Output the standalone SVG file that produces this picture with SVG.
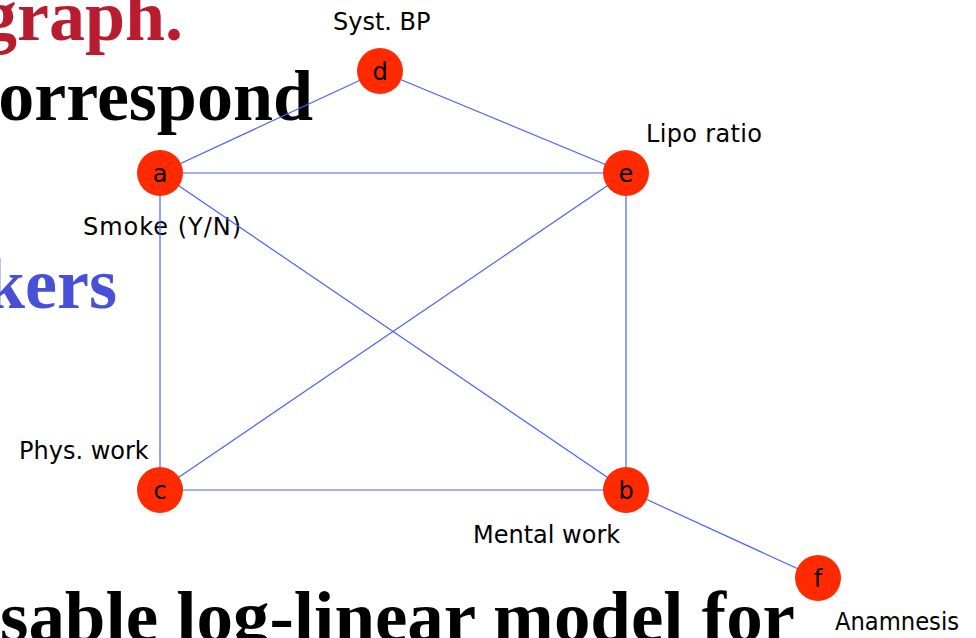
<svg xmlns="http://www.w3.org/2000/svg" width="976" height="638" viewBox="0 0 976 638">
<style>
.big{font-family:"Liberation Serif","Times New Roman",serif;font-weight:bold;font-size:72px}
.lbl{font-family:"DejaVu Sans",Verdana,sans-serif;font-size:24px;fill:#000}
.node circle{fill:#ff2a00}
.node text{font-family:"DejaVu Sans",Verdana,sans-serif;font-size:24px;fill:#000;text-anchor:middle}
.edge{stroke:#4a63ff;stroke-width:1.2;fill:none}
</style>
<rect width="976" height="638" fill="#fff"/>
<g id="background-text">
<text class="big" x="183" y="40" fill="#b81c2e" text-anchor="end">graph.</text>
<text class="big" x="313" y="120" fill="#000" text-anchor="end">orrespond</text>
<text class="big" x="117" y="308" fill="#4750d6" text-anchor="end">kers</text>
<text class="big" x="0" y="641" fill="#000" textLength="795" lengthAdjust="spacingAndGlyphs">sable log-linear model for</text>
</g>
<g id="labels">
<text class="lbl" x="333" y="30">Syst. BP</text>
<text class="lbl" x="646" y="142" textLength="116">Lipo ratio</text>
<text class="lbl" x="83" y="235" textLength="158">Smoke (Y/N)</text>
<text class="lbl" x="19" y="459">Phys. work</text>
<text class="lbl" x="473" y="543">Mental work</text>
<text class="lbl" x="835" y="630" textLength="124" lengthAdjust="spacingAndGlyphs">Anamnesis</text>
</g>
<g id="connectors">
<line class="edge" x1="160" y1="173" x2="380" y2="71"/>
<line class="edge" x1="380" y1="71" x2="626" y2="173"/>
<line class="edge" x1="160" y1="173" x2="626" y2="173"/>
<line class="edge" x1="160" y1="173" x2="160" y2="490"/>
<line class="edge" x1="160" y1="173" x2="626" y2="490"/>
<line class="edge" x1="626" y1="173" x2="160" y2="490"/>
<line class="edge" x1="626" y1="173" x2="626" y2="490"/>
<line class="edge" x1="160" y1="490" x2="626" y2="490"/>
<line class="edge" x1="626" y1="490" x2="818" y2="578"/>
</g>
<g id="node-a" class="node"><circle cx="160" cy="173" r="23"/><text x="160" y="182">a</text></g>
<g id="node-b" class="node"><circle cx="626" cy="490" r="23"/><text x="626" y="499">b</text></g>
<g id="node-c" class="node"><circle cx="160" cy="490" r="23"/><text x="160" y="499">c</text></g>
<g id="node-d" class="node"><circle cx="380" cy="71" r="23"/><text x="380" y="80">d</text></g>
<g id="node-e" class="node"><circle cx="626" cy="173" r="23"/><text x="626" y="182">e</text></g>
<g id="node-f" class="node"><circle cx="818" cy="578" r="23"/><text x="818" y="587">f</text></g>
</svg>
